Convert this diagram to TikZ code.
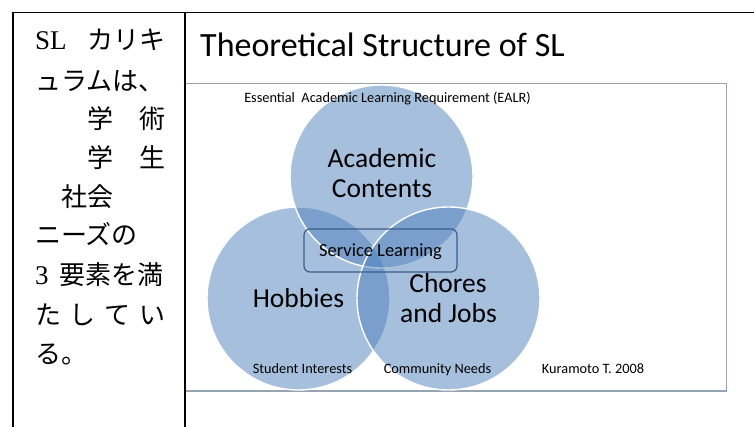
\documentclass[tikz,border=0pt]{standalone}
\usepackage{fontspec}
\setmainfont{Carlito}
\newfontfamily\jpfont{Noto Sans CJK JP}
\newfontfamily\jplatin{Liberation Serif}
\definecolor{vennblue}{HTML}{4F81BD}
\definecolor{framegray}{HTML}{95A3B3}
\definecolor{slborder}{HTML}{3B5E8C}
\newcommand{\jpsz}{\fontsize{26}{30}\selectfont}
\newcommand{\ltsz}{\fontsize{27}{30}\selectfont}
\tikzset{
  venn/.style={draw=white, line width=1.4, fill=vennblue, fill opacity=0.5},
  jpline/.style={anchor=base west, inner sep=0, font=\jpfont\jpsz},
  lbl/.style={anchor=base, inner sep=0, font=\fontsize{14.3}{17}\selectfont},
  bigl/.style={anchor=base, inner sep=0, align=center, font=\fontsize{27.5}{30}\selectfont},
}
\begin{document}
\begin{tikzpicture}[x=1pt, y=-1pt]
\useasboundingbox (0,0) rectangle (754,427);
\fill[white] (0,0) rectangle (754,427);

% picture frame
\draw[framegray, line width=1.3] (186,83.5) -- (726.5,83.5) -- (726.5,391) -- (186,391);

% title
\node[anchor=base west, inner sep=0, font=\fontsize{34}{40}\selectfont] (title) at (200,57) {Theoretical Structure of SL};

% the three circles
\path[venn] (298.5,298.5) circle[radius=91.5];
\path[venn] (381.5,176.5) circle[radius=91.5];
\path[venn] (448.5,298.5) circle[radius=91.5];

\node[lbl] (ealr) at (387.5,103) {Essential\ \ Academic Learning Requirement (EALR)};
\node[bigl] (acad) at (382,168) {Academic};
\node[bigl] (cont) at (382,198) {Contents};
\node[bigl] (hobb) at (298.5,307) {Hobbies};
\node[bigl] (chor) at (448,292) {Chores};
\node[bigl] (jobs) at (448.5,322) {and Jobs};
\node[lbl] (stud) at (302.5,373) {Student Interests};
\node[lbl] (comm) at (437.5,373) {Community Needs};
\node[lbl] (kura) at (593,373) {Kuramoto T. 2008};

% service learning box
\node[draw=slborder, line width=1.2, rounded corners=6, anchor=base, inner xsep=0, inner ysep=0,
      minimum width=153, text height=28, text depth=15,
      font=\fontsize{18.5}{22}\selectfont] (sl) at (380.5,257) {Service Learning};

% left text box
\draw[black, line width=1.3] (13,427) -- (13,12.5) -- (754,12.5);
\draw[black, line width=1.3] (185,12.5) -- (185,427);

\node[jpline] (j1) at (35,50) {\makebox[52pt][l]{\jplatin\ltsz SL}カリキ};
\node[jpline] (j2) at (35,91) {ュラムは、};
\node[jpline] (j3) at (35,129) {　　学　術};
\node[jpline] (j4) at (35,168) {　　学　生};
\node[jpline] (j5) at (35,207) {　社会};
\node[jpline] (j6) at (35,245) {ニーズの};
\node[jpline] (j7) at (35,284) {\makebox[24pt][l]{\jplatin\ltsz 3}要素を満};
\node[jpline] (j8) at (35,324) {\makebox[130pt][s]{た\hfill し\hfill て\hfill い}};
\node[jpline] (j9) at (35,363) {る。};
\end{tikzpicture}
\end{document}
